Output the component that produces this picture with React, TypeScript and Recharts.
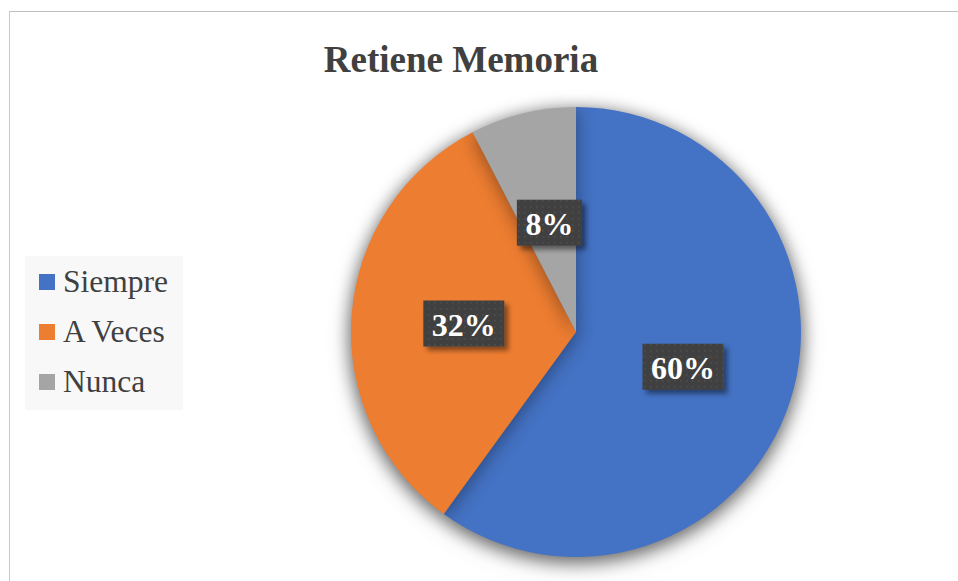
import React from "react";
import { PieChart, Pie, Cell, Legend } from "recharts";

const categories = ["Siempre", "A Veces", "Nunca"];
const values = [60, 32.4, 7.6];
const colors = ["#4472C4", "#ED7D31", "#A5A5A5"];
const title = "Retiene Memoria";

const data = categories.map((name, i) => ({ name, value: values[i] }));

const RADIAN = Math.PI / 180;
const FONT = "'Liberation Serif', 'Times New Roman', serif";

const renderLabel = (props: any) => {
  const { cx, cy, midAngle, outerRadius, percent, index } = props;
  const r = outerRadius * 0.5;
  const x = cx + r * Math.cos(-midAngle * RADIAN);
  const y = cy + r * Math.sin(-midAngle * RADIAN);
  const text = `${Math.round(percent * 100)}%`;
  const w = 33 + 16 * text.length;
  const h = 46;
  const pid = `dots-${index}`;
  const fid = `lblshadow-${index}`;
  return (
    <g>
      <defs>
        <pattern id={pid} width="6" height="6" patternUnits="userSpaceOnUse">
          <rect width="6" height="6" fill="#404040" />
          <rect x="2" y="2" width="1.5" height="1.5" fill="#505050" />
        </pattern>
        <filter id={fid} x="-30%" y="-30%" width="160%" height="170%">
          <feDropShadow dx="4" dy="4" stdDeviation="2.5" floodColor="#000" floodOpacity="0.45" />
        </filter>
      </defs>
      <rect x={x - w / 2} y={y - h / 2} width={w} height={h} fill={`url(#${pid})`} filter={`url(#${fid})`} />
      <text
        x={x}
        y={y + 1}
        textAnchor="middle"
        dominantBaseline="central"
        fill="#ffffff"
        fontFamily={FONT}
        fontWeight="bold"
        fontSize={32}
      >
        {text}
      </text>
    </g>
  );
};

const LegendContent = () => {
  return (
    <div
      style={{
        background: "#f8f8f8",
        width: 158,
        height: 154,
        boxSizing: "border-box",
        paddingTop: 1,
        paddingLeft: 14,
      }}
    >
      {categories.map((name, i) => (
        <div key={name} style={{ display: "flex", alignItems: "center", height: 50 }}>
          <div style={{ width: 16, height: 16, background: colors[i], marginRight: 8 }} />
          <span style={{ fontFamily: FONT, fontSize: 31.5, color: "#404040", lineHeight: "50px" }}>
            {name}
          </span>
        </div>
      ))}
    </div>
  );
};

export default function App() {
  return (
    <div style={{ position: "absolute", left: 0, top: 0, width: 958, height: 581, background: "#fff", overflow: "hidden" }}>
      <style>{`.pie-main { filter: drop-shadow(0px 4px 9px rgba(0,0,0,0.38)); }`}</style>
      <div
        style={{
          position: "absolute",
          left: 9,
          top: 11,
          width: 949,
          height: 570,
          borderLeft: "1.5px solid #c8c8c8",
          borderTop: "1px solid #c0c0c0",
          boxSizing: "border-box",
        }}
      />
      <div
        style={{
          position: "absolute",
          left: 261,
          top: 36,
          width: 400,
          textAlign: "center",
          fontFamily: FONT,
          fontWeight: "bold",
          fontSize: 37,
          color: "#404040",
          lineHeight: "48px",
        }}
      >
        {title}
      </div>
      <div style={{ position: "absolute", left: 0, top: 0 }}>
        <PieChart width={958} height={581} margin={{ top: 0, right: 0, bottom: 0, left: 0 }}>
          <Pie
            className="pie-main"
            data={data}
            dataKey="value"
            nameKey="name"
            cx={576}
            cy={332}
            outerRadius={225}
            startAngle={90}
            endAngle={-270}
            stroke="none"
            isAnimationActive={false}
          >
            {data.map((d, i) => (
              <Cell key={d.name} fill={colors[i]} stroke="none" />
            ))}
          </Pie>
          <Pie
            data={data}
            dataKey="value"
            nameKey="name"
            cx={576}
            cy={332}
            outerRadius={225}
            startAngle={90}
            endAngle={-270}
            fill="none"
            stroke="none"
            legendType="none"
            label={renderLabel}
            labelLine={false}
            isAnimationActive={false}
          >
            {data.map((d) => (
              <Cell key={d.name} fill="none" stroke="none" />
            ))}
          </Pie>
          <Legend
            layout="vertical"
            align="center"
            verticalAlign="middle"
            content={<LegendContent />}
            wrapperStyle={{ position: "absolute", left: 25, top: 256, width: 158, height: 154 }}
          />
        </PieChart>
      </div>
    </div>
  );
}
